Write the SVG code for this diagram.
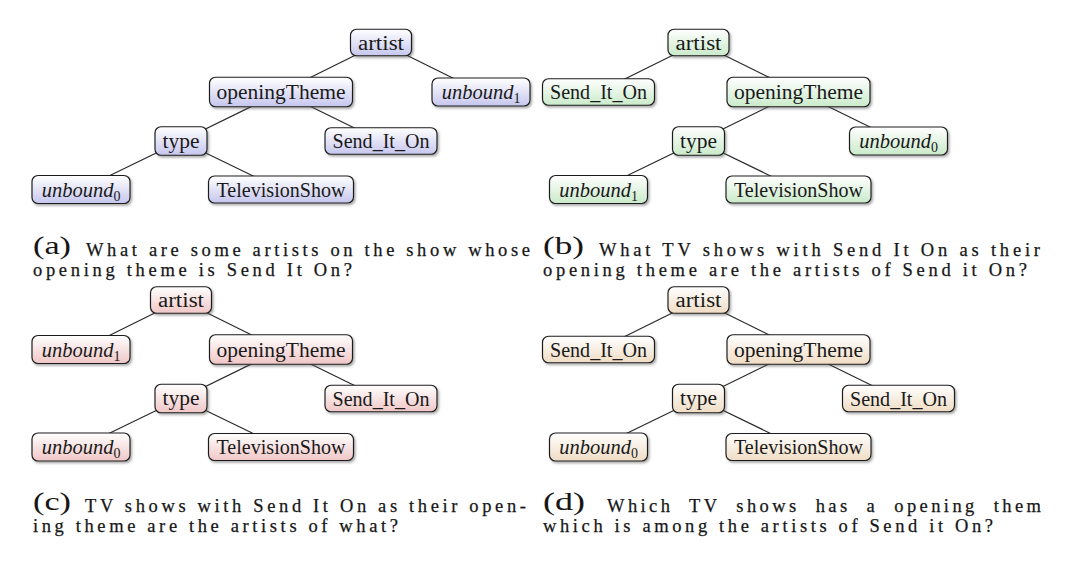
<svg xmlns="http://www.w3.org/2000/svg" width="1080" height="561" viewBox="0 0 1080 561">
<defs>
<linearGradient id="ga" x1="0" y1="0" x2="0" y2="1"><stop offset="0" stop-color="#ffffff"/><stop offset="1" stop-color="#c6c6ee"/></linearGradient>
<linearGradient id="gb" x1="0" y1="0" x2="0" y2="1"><stop offset="0" stop-color="#ffffff"/><stop offset="1" stop-color="#caeaca"/></linearGradient>
<linearGradient id="gc" x1="0" y1="0" x2="0" y2="1"><stop offset="0" stop-color="#ffffff"/><stop offset="1" stop-color="#f0c6c6"/></linearGradient>
<linearGradient id="gd" x1="0" y1="0" x2="0" y2="1"><stop offset="0" stop-color="#ffffff"/><stop offset="1" stop-color="#efdcc4"/></linearGradient>
<filter id="sh" x="-20%" y="-30%" width="140%" height="170%"><feDropShadow dx="1.5" dy="1.8" stdDeviation="1.3" flood-color="#555" flood-opacity="0.5"/></filter>
</defs>
<style>
.n rect{stroke:#1e1e1e;stroke-width:1.2;filter:url(#sh)}
.pa rect{fill:url(#ga)}
.pb rect{fill:url(#gb)}
.pc rect{fill:url(#gc)}
.pd rect{fill:url(#gd)}
.t{font-family:"Liberation Serif","DejaVu Serif",serif;font-size:20.5px;fill:#1a1a1a;text-anchor:middle}
.i{font-style:italic}
.s{font-size:14px;font-style:normal}
.e line{stroke:#2a2a2a;stroke-width:1.2}
.cap{font-family:"Liberation Serif","DejaVu Serif",serif;font-size:18.5px;fill:#161616;stroke:#161616;stroke-width:0.25}
.lab{font-family:"Liberation Serif","DejaVu Serif",serif;font-size:26px;fill:#161616}
</style>
<rect width="1080" height="561" fill="#ffffff"/>

<g id="connectors" class="e">
<line x1="381" y1="42.5" x2="281" y2="92"/><line x1="381" y1="42.5" x2="481" y2="92"/>
<line x1="281" y1="92" x2="181" y2="141"/><line x1="281" y1="92" x2="381" y2="141"/>
<line x1="181" y1="141" x2="81" y2="189.5"/><line x1="181" y1="141" x2="281" y2="189.5"/>
<line x1="698.5" y1="42.5" x2="598.5" y2="92"/><line x1="698.5" y1="42.5" x2="798.5" y2="92"/>
<line x1="798.5" y1="92" x2="698.5" y2="141"/><line x1="798.5" y1="92" x2="898.5" y2="141"/>
<line x1="698.5" y1="141" x2="598.5" y2="189.5"/><line x1="698.5" y1="141" x2="798.5" y2="189.5"/>
<line x1="181" y1="300" x2="81" y2="349.5"/><line x1="181" y1="300" x2="281" y2="349.5"/>
<line x1="281" y1="349.5" x2="181" y2="398.5"/><line x1="281" y1="349.5" x2="381" y2="398.5"/>
<line x1="181" y1="398.5" x2="81" y2="447"/><line x1="181" y1="398.5" x2="281" y2="447"/>
<line x1="698.5" y1="300" x2="598.5" y2="349.5"/><line x1="698.5" y1="300" x2="798.5" y2="349.5"/>
<line x1="798.5" y1="349.5" x2="698.5" y2="398.5"/><line x1="798.5" y1="349.5" x2="898.5" y2="398.5"/>
<line x1="698.5" y1="398.5" x2="598.5" y2="447"/><line x1="698.5" y1="398.5" x2="798.5" y2="447"/>
</g>

<g class="pa">
<g id="a-artist" class="n"><rect x="350.5" y="29.25" width="61" height="26.5" rx="6"/><text class="t" x="381" y="49.5" textLength="46" lengthAdjust="spacingAndGlyphs">artist</text></g>
<g id="a-openingTheme" class="n"><rect x="209.5" y="77.25" width="143" height="29.5" rx="6"/><text class="t" x="281" y="99" textLength="129" lengthAdjust="spacingAndGlyphs">openingTheme</text></g>
<g id="a-unbound1" class="n"><rect x="432" y="78" width="98" height="28" rx="6"/><text class="t" x="481" y="99"><tspan class="i">unbound</tspan><tspan class="s" dy="4">1</tspan></text></g>
<g id="a-type" class="n"><rect x="155" y="126.75" width="52" height="28.5" rx="6"/><text class="t" x="181" y="147.5" textLength="37" lengthAdjust="spacingAndGlyphs">type</text></g>
<g id="a-send" class="n"><rect x="325" y="127.75" width="112" height="26.5" rx="6"/><text class="t" x="381" y="148" textLength="97" lengthAdjust="spacingAndGlyphs">Send_It_On</text></g>
<g id="a-unbound0" class="n"><rect x="32" y="175.5" width="98" height="28" rx="6"/><text class="t" x="81" y="196.5"><tspan class="i">unbound</tspan><tspan class="s" dy="4">0</tspan></text></g>
<g id="a-tvshow" class="n"><rect x="208.5" y="176" width="145" height="27" rx="6"/><text class="t" x="281" y="196.5" textLength="129" lengthAdjust="spacingAndGlyphs">TelevisionShow</text></g>
</g>

<g class="pb">
<g id="b-artist" class="n"><rect x="668" y="29.25" width="61" height="26.5" rx="6"/><text class="t" x="698.5" y="49.5" textLength="46" lengthAdjust="spacingAndGlyphs">artist</text></g>
<g id="b-send" class="n"><rect x="542.5" y="78.75" width="112" height="26.5" rx="6"/><text class="t" x="598.5" y="99" textLength="97" lengthAdjust="spacingAndGlyphs">Send_It_On</text></g>
<g id="b-openingTheme" class="n"><rect x="727" y="77.25" width="143" height="29.5" rx="6"/><text class="t" x="798.5" y="99" textLength="129" lengthAdjust="spacingAndGlyphs">openingTheme</text></g>
<g id="b-type" class="n"><rect x="672.5" y="126.75" width="52" height="28.5" rx="6"/><text class="t" x="698.5" y="147.5" textLength="37" lengthAdjust="spacingAndGlyphs">type</text></g>
<g id="b-unbound0" class="n"><rect x="849.5" y="127" width="98" height="28" rx="6"/><text class="t" x="898.5" y="148"><tspan class="i">unbound</tspan><tspan class="s" dy="4">0</tspan></text></g>
<g id="b-unbound1" class="n"><rect x="549.5" y="175.5" width="98" height="28" rx="6"/><text class="t" x="598.5" y="196.5"><tspan class="i">unbound</tspan><tspan class="s" dy="4">1</tspan></text></g>
<g id="b-tvshow" class="n"><rect x="726" y="176" width="145" height="27" rx="6"/><text class="t" x="798.5" y="196.5" textLength="129" lengthAdjust="spacingAndGlyphs">TelevisionShow</text></g>
</g>

<g class="pc">
<g id="c-artist" class="n"><rect x="150.5" y="286.75" width="61" height="26.5" rx="6"/><text class="t" x="181" y="307" textLength="46" lengthAdjust="spacingAndGlyphs">artist</text></g>
<g id="c-unbound1" class="n"><rect x="32" y="335.5" width="98" height="28" rx="6"/><text class="t" x="81" y="356.5"><tspan class="i">unbound</tspan><tspan class="s" dy="4">1</tspan></text></g>
<g id="c-openingTheme" class="n"><rect x="209.5" y="334.75" width="143" height="29.5" rx="6"/><text class="t" x="281" y="356.5" textLength="129" lengthAdjust="spacingAndGlyphs">openingTheme</text></g>
<g id="c-type" class="n"><rect x="155" y="384.25" width="52" height="28.5" rx="6"/><text class="t" x="181" y="405" textLength="37" lengthAdjust="spacingAndGlyphs">type</text></g>
<g id="c-send" class="n"><rect x="325" y="385.25" width="112" height="26.5" rx="6"/><text class="t" x="381" y="405.5" textLength="97" lengthAdjust="spacingAndGlyphs">Send_It_On</text></g>
<g id="c-unbound0" class="n"><rect x="32" y="433" width="98" height="28" rx="6"/><text class="t" x="81" y="454"><tspan class="i">unbound</tspan><tspan class="s" dy="4">0</tspan></text></g>
<g id="c-tvshow" class="n"><rect x="208.5" y="433.5" width="145" height="27" rx="6"/><text class="t" x="281" y="454" textLength="129" lengthAdjust="spacingAndGlyphs">TelevisionShow</text></g>
</g>

<g class="pd">
<g id="d-artist" class="n"><rect x="668" y="286.75" width="61" height="26.5" rx="6"/><text class="t" x="698.5" y="307" textLength="46" lengthAdjust="spacingAndGlyphs">artist</text></g>
<g id="d-send1" class="n"><rect x="542.5" y="336.25" width="112" height="26.5" rx="6"/><text class="t" x="598.5" y="356.5" textLength="97" lengthAdjust="spacingAndGlyphs">Send_It_On</text></g>
<g id="d-openingTheme" class="n"><rect x="727" y="334.75" width="143" height="29.5" rx="6"/><text class="t" x="798.5" y="356.5" textLength="129" lengthAdjust="spacingAndGlyphs">openingTheme</text></g>
<g id="d-type" class="n"><rect x="672.5" y="384.25" width="52" height="28.5" rx="6"/><text class="t" x="698.5" y="405" textLength="37" lengthAdjust="spacingAndGlyphs">type</text></g>
<g id="d-send2" class="n"><rect x="842.5" y="385.25" width="112" height="26.5" rx="6"/><text class="t" x="898.5" y="405.5" textLength="97" lengthAdjust="spacingAndGlyphs">Send_It_On</text></g>
<g id="d-unbound0" class="n"><rect x="549.5" y="433" width="98" height="28" rx="6"/><text class="t" x="598.5" y="454"><tspan class="i">unbound</tspan><tspan class="s" dy="4">0</tspan></text></g>
<g id="d-tvshow" class="n"><rect x="726" y="433.5" width="145" height="27" rx="6"/><text class="t" x="798.5" y="454" textLength="129" lengthAdjust="spacingAndGlyphs">TelevisionShow</text></g>
</g>

<g id="captions">
<text class="lab" x="33" y="254" textLength="38" lengthAdjust="spacingAndGlyphs">(a)</text>
<text class="cap" x="86" y="256" textLength="444" lengthAdjust="spacing">What are some artists on the show whose</text>
<text class="cap" x="33" y="275.5" textLength="319" lengthAdjust="spacing">opening theme is Send It On?</text>
<text class="lab" x="543" y="254" textLength="41" lengthAdjust="spacingAndGlyphs">(b)</text>
<text class="cap" x="599" y="256" textLength="441" lengthAdjust="spacing">What TV shows with Send It On as their</text>
<text class="cap" x="543" y="275.5" textLength="484" lengthAdjust="spacing">opening theme are the artists of Send it On?</text>
<text class="lab" x="33" y="510" textLength="38" lengthAdjust="spacingAndGlyphs">(c)</text>
<text class="cap" x="85" y="512" textLength="441" lengthAdjust="spacing">TV shows with Send It On as their open-</text>
<text class="cap" x="33" y="532" textLength="365" lengthAdjust="spacing">ing theme are the artists of what?</text>
<text class="lab" x="543" y="510" textLength="42" lengthAdjust="spacingAndGlyphs">(d)</text>
<text class="cap" x="607" y="512" textLength="434" lengthAdjust="spacing" word-spacing="8">Which TV shows has a opening them</text>
<text class="cap" x="543" y="532" textLength="450" lengthAdjust="spacing">which is among the artists of Send it On?</text>
</g>
</svg>
